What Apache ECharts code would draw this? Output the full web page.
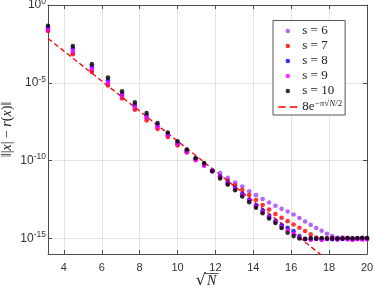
<!DOCTYPE html>
<html><head><meta charset="utf-8">
<script src="https://cdn.jsdelivr.net/npm/echarts@6/dist/echarts.min.js"></script>
<style>html,body{margin:0;padding:0;background:#fff}#c{width:374px;height:289px}</style>
</head><body><div id="c"></div>
<script>
// x positions: sqrt(N), N = 10, 20, ..., 400
const sqrtN = [3.162, 4.472, 5.477, 6.325, 7.071, 7.746, 8.367, 8.944, 9.487, 10.000,
  10.488, 10.954, 11.402, 11.832, 12.247, 12.649, 13.038, 13.416, 13.784, 14.142,
  14.491, 14.832, 15.166, 15.492, 15.811, 16.125, 16.432, 16.733, 17.029, 17.321,
  17.607, 17.889, 18.166, 18.439, 18.708, 18.974, 19.235, 19.494, 19.748, 20.000];

const s6 = [2.40e-2, 8.32e-4, 6.03e-5, 8.32e-6, 1.26e-6, 2.40e-7, 5.01e-8, 1.32e-8, 3.80e-9, 1.10e-9,
  3.31e-10, 1.07e-10, 4.47e-11, 2.40e-11, 1.62e-11, 7.76e-12, 3.89e-12, 2.14e-12, 1.07e-12, 6.03e-13,
  3.39e-13, 2.04e-13, 1.26e-13, 7.94e-14, 5.37e-14, 3.47e-14, 2.04e-14, 1.23e-14, 7.41e-15, 4.68e-15,
  3.09e-15, 2.00e-15, 1.41e-15, 1.10e-15, 1.00e-15, 9.33e-16, 1.05e-15, 9.77e-16, 9.12e-16, 1.00e-15];

const s7 = [2.14e-2, 6.92e-4, 4.90e-5, 6.76e-6, 9.77e-7, 1.86e-7, 3.80e-8, 1.07e-8, 3.31e-9, 9.55e-10,
  3.47e-10, 1.15e-10, 5.50e-11, 2.19e-11, 9.77e-12, 5.25e-12, 2.63e-12, 1.29e-12, 6.17e-13, 2.95e-13,
  1.41e-13, 7.24e-14, 3.72e-14, 2.14e-14, 1.29e-14, 7.94e-15, 4.90e-15, 3.02e-15, 1.82e-15, 1.15e-15,
  9.55e-16, 1.02e-15, 9.33e-16, 1.00e-15, 9.55e-16, 1.05e-15, 9.77e-16, 9.33e-16, 1.02e-15, 9.77e-16];

const s8 = [3.55e-2, 1.58e-3, 1.07e-4, 1.48e-5, 2.00e-6, 3.80e-7, 7.94e-8, 1.95e-8, 5.13e-9, 1.41e-9,
  4.37e-10, 1.32e-10, 6.03e-11, 2.09e-11, 9.33e-12, 3.89e-12, 1.78e-12, 7.41e-13, 3.16e-13, 1.35e-13,
  6.17e-14, 2.69e-14, 1.29e-14, 7.08e-15, 4.90e-15, 2.95e-15, 1.41e-15, 9.12e-16, 8.91e-16, 9.55e-16,
  8.71e-16, 9.33e-16, 8.91e-16, 9.77e-16, 9.12e-16, 9.55e-16, 8.91e-16, 9.33e-16, 9.77e-16, 9.12e-16];

const s9 = [2.82e-2, 1.12e-3, 7.94e-5, 1.05e-5, 1.51e-6, 2.82e-7, 6.03e-8, 1.51e-8, 4.27e-9, 1.20e-9,
  3.80e-10, 1.20e-10, 5.25e-11, 2.00e-11, 8.32e-12, 3.31e-12, 1.48e-12, 6.03e-13, 2.63e-13, 1.12e-13,
  5.01e-14, 2.24e-14, 1.12e-14, 5.37e-15, 3.39e-15, 2.00e-15, 1.12e-15, 8.91e-16, 8.32e-16, 9.55e-16,
  7.94e-16, 9.12e-16, 1.07e-15, 8.13e-16, 1.12e-15, 8.71e-16, 7.94e-16, 9.33e-16, 8.32e-16, 8.91e-16];

const s10 = [4.68e-2, 2.34e-3, 1.58e-4, 2.19e-5, 2.88e-6, 5.50e-7, 1.15e-7, 2.63e-8, 6.46e-9, 1.74e-9,
  5.13e-10, 1.48e-10, 6.92e-11, 2.14e-11, 7.08e-12, 2.88e-12, 1.26e-12, 4.90e-13, 2.14e-13, 9.33e-14,
  4.17e-14, 1.91e-14, 9.77e-15, 4.68e-15, 2.34e-15, 1.41e-15, 1.00e-15, 9.33e-16, 1.05e-15, 9.77e-16,
  1.07e-15, 1.00e-15, 1.05e-15, 9.55e-16, 1.02e-15, 1.07e-15, 1.00e-15, 1.05e-15, 1.10e-15, 1.07e-15];

// reference line 8 e^{-pi sqrt(N/2)}: straight on this semilog plot, given by its endpoints
const fitX = [3.162, 20];
const fitY = [7.11e-3, 4.05e-19];

const seriesNames = ['s = 6', 's = 7', 's = 8', 's = 9', 's = 10'];
const seriesColors = ['#a040ff', '#ff0000', '#0000ff', '#ff00ff', '#000000'];
const seriesValues = [s6, s7, s8, s9, s10];
const fitName = 'fit';

// axis ranges and tick layout
const xMin = 3.162, xMax = 20, xTickStart = 4, xTickStep = 2;
const yMin = 1e-16, yMax = 1, yTickStart = 1e-15, yTickStepDecades = 5;

const W = 374, H = 289;
const G = {left: 48, right: 7, top: 5, bottom: 35};
const plotW = W - G.left - G.right, plotH = H - G.top - G.bottom;
// helper grids that carry the tick marks, so ticks fall on round values
const gridXTicks = {left: G.left + (xTickStart - xMin) / (xMax - xMin) * plotW, right: G.right, top: G.top, bottom: G.bottom};
const decades = Math.log10(yMax / yMin), tickDecades = Math.log10(yMax / yTickStart);
const gridYTicks = {left: G.left, right: G.right, top: G.top, bottom: H - G.top - plotH * tickDecades / decades};

const chart = echarts.init(document.getElementById('c'), null, {renderer: 'canvas'});
const axisColor = '#4d4d4d';
const labelColor = '#333';
const gridColor = '#e4e4e4';
const sans = '"Liberation Sans", Arial, sans-serif';
const serif = '"Liberation Serif", "DejaVu Serif", serif';
const tick = {show: true, inside: true, length: 4, lineStyle: {color: axisColor, width: 1}};
const gridBase = {containLabel: false, outerBoundsMode: 'none'};

const scatterSeries = seriesValues.map((vals, k) => ({
  type: 'scatter', name: seriesNames[k], xAxisIndex: 0, yAxisIndex: 0,
  data: sqrtN.map((x, i) => [x, vals[i]]),
  symbol: 'circle', symbolSize: 4.6,
  itemStyle: {color: seriesColors[k]},
  z: 3 + k, animation: false
}));

const option = {
  animation: false,
  grid: [
    Object.assign({}, gridBase, G),
    Object.assign({}, gridBase, gridXTicks),
    Object.assign({}, gridBase, gridYTicks)
  ],
  xAxis: [{
    gridIndex: 0, type: 'value', min: xMin, max: xMax, position: 'bottom',
    axisLine: {show: true, onZero: false, lineStyle: {color: axisColor, width: 1}},
    axisTick: {show: false}, axisLabel: {show: false}, splitLine: {show: false}
  }, {
    gridIndex: 0, type: 'value', min: xMin, max: xMax, position: 'top',
    axisLine: {show: true, onZero: false, lineStyle: {color: axisColor, width: 1}},
    axisTick: {show: false}, axisLabel: {show: false}, splitLine: {show: false}
  }, {
    gridIndex: 1, type: 'value', min: xTickStart, max: xMax, interval: xTickStep, position: 'bottom',
    axisLine: {show: false, onZero: false}, axisTick: tick,
    axisLabel: {show: true, margin: 8, color: labelColor, fontFamily: sans, fontSize: 11},
    splitLine: {show: true, lineStyle: {color: gridColor, width: 1}}
  }, {
    gridIndex: 1, type: 'value', min: xTickStart, max: xMax, interval: xTickStep, position: 'top',
    axisLine: {show: false, onZero: false}, axisTick: tick,
    axisLabel: {show: false}, splitLine: {show: false}
  }, {
    gridIndex: 2, type: 'value', min: 0, max: 1, show: false
  }],
  yAxis: [{
    gridIndex: 0, type: 'log', logBase: 10, min: yMin, max: yMax, position: 'left',
    axisLine: {show: true, onZero: false, lineStyle: {color: axisColor, width: 1}},
    axisTick: {show: false}, axisLabel: {show: false}, splitLine: {show: false}, minorTick: {show: false},
    name: '{n|‖|}{i|x}{n|| − }{i|r}{n|(}{i|x}{n|)‖}',
    nameLocation: 'middle', nameGap: 34,
    nameTextStyle: {
      rich: {
        n: {fontFamily: serif, fontSize: 14, color: '#222'},
        i: {fontFamily: serif, fontStyle: 'italic', fontSize: 14, color: '#222'}
      }
    }
  }, {
    gridIndex: 0, type: 'log', logBase: 10, min: yMin, max: yMax, position: 'right',
    axisLine: {show: true, onZero: false, lineStyle: {color: axisColor, width: 1}},
    axisTick: {show: false}, axisLabel: {show: false}, splitLine: {show: false}
  }, {
    gridIndex: 1, type: 'value', min: 0, max: 1, show: false
  }, {
    gridIndex: 2, type: 'log', logBase: 10, min: yTickStart, max: yMax, interval: yTickStepDecades, position: 'left',
    axisLine: {show: false, onZero: false}, axisTick: tick, minorTick: {show: false},
    axisLabel: {show: true, margin: 2, color: labelColor, fontFamily: sans,
      formatter: v => '{b|10}{s|' + Math.round(Math.log10(v)) + '}',
      rich: {
        b: {fontSize: 12, fontFamily: sans, color: labelColor},
        s: {fontSize: 8.5, fontFamily: sans, color: labelColor, padding: [0, 0, 7, 0]}
      }
    },
    splitLine: {show: true, lineStyle: {color: gridColor, width: 1}}
  }, {
    gridIndex: 2, type: 'log', logBase: 10, min: yTickStart, max: yMax, interval: yTickStepDecades, position: 'right',
    axisLine: {show: false, onZero: false}, axisTick: tick, minorTick: {show: false},
    axisLabel: {show: false}, splitLine: {show: false}
  }],
  legend: {
    show: true, orient: 'vertical', left: 273, top: 20.5,
    padding: [4, 3, 1.5, 5.3], itemGap: 2, itemWidth: 19, itemHeight: 4.5,
    backgroundColor: '#fff', borderColor: '#555', borderWidth: 1,
    data: seriesNames.map(n => ({name: n, icon: 'circle'})).concat([
      {name: fitName, icon: 'path://M0,0H7V1.6H0Z M11,0H18V1.6H11Z'}
    ]),
    formatter: name => {
      if (name === fitName) return '{n|8e}{s|−π√}{si|N}{s|/2}';
      return '{n|' + name + '}';
    },
    textStyle: {
      fontFamily: serif, fontSize: 13, color: '#222',
      rich: {
        n: {fontFamily: serif, fontSize: 13, color: '#222', lineHeight: 12},
        s: {fontFamily: serif, fontSize: 9, color: '#222', padding: [0, 0, 6, 0]},
        si: {fontFamily: serif, fontStyle: 'italic', fontSize: 9, color: '#222', padding: [0, 0, 6, 0]}
      }
    }
  },
  graphic: [
    {type: 'text', x: 206, y: 281, style: {text: '√', font: '16px "DejaVu Serif"', fill: '#222', align: 'right', verticalAlign: 'middle'}},
    {type: 'text', x: 207, y: 281, style: {text: 'N', font: 'italic 14px "Liberation Serif"', fill: '#222', align: 'left', verticalAlign: 'middle'}},
    {type: 'line', shape: {x1: 205, y1: 273.5, x2: 218.5, y2: 273.5}, style: {stroke: '#222', lineWidth: 0.8}}
  ],
  series: [{
    type: 'line', name: fitName, xAxisIndex: 0, yAxisIndex: 0,
    data: fitX.map((x, i) => [x, fitY[i]]),
    symbol: 'none', showSymbol: false, clip: true,
    lineStyle: {color: '#ff0000', width: 1.3, type: [5, 3]},
    itemStyle: {color: '#ff0000'}, z: 2
  }].concat(scatterSeries)
};
chart.setOption(option);
</script></body></html>
